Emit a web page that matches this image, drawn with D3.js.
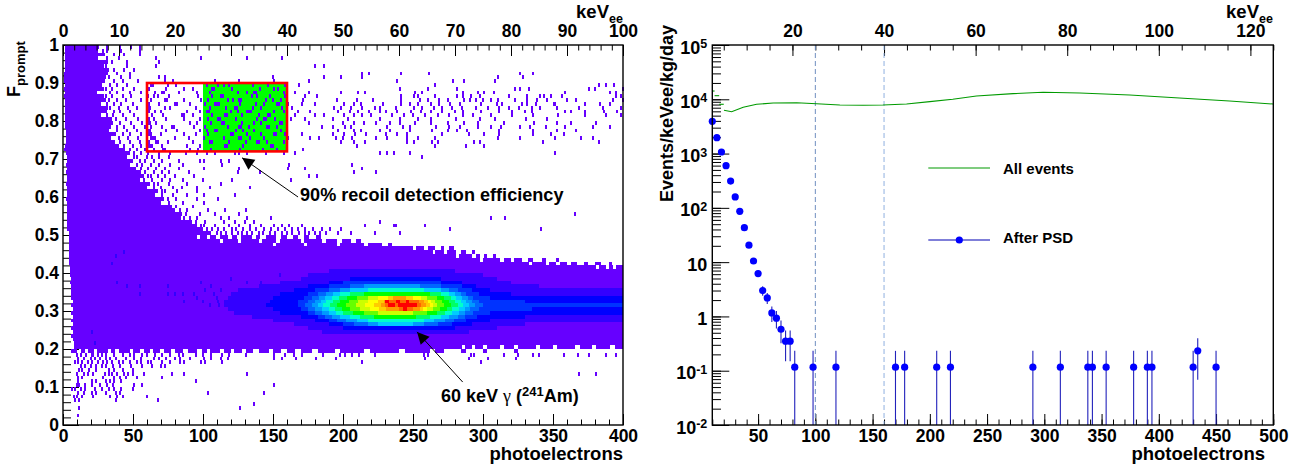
<!DOCTYPE html>
<html>
<head>
<meta charset="utf-8">
<script src="https://cdn.jsdelivr.net/npm/d3@7"></script>
<style>
  html, body { margin: 0; padding: 0; background: #fff; }
  svg { display: block; }
  text { font-family: "Liberation Sans", Arial, sans-serif; font-weight: bold; fill: #000; }
</style>
</head>
<body>
<svg id="chart" width="1310" height="468"></svg>
<script>
// ---- left panel: Fprompt vs photoelectrons ----
const leftTicksX = [0, 50, 100, 150, 200, 250, 300, 350, 400];
const leftTicksY = [0, 0.1, 0.2, 0.3, 0.4, 0.5, 0.6, 0.7, 0.8, 0.9, 1];
const leftTicksKev = [0, 10, 20, 30, 40, 50, 60, 70, 80, 90, 100];
const recoilBox = { x0: 60, x1: 160, y0: 0.72, y1: 0.9 };
const greenBox = { x0: 100, x1: 160, y0: 0.72, y1: 0.9 };
const violet = "#6600ff";

// solid runs of the lowest colour: [F bin, from PE, to PE]
const violetRuns = [
  [.99,1.5,26],[.98,1.5,25],[.97,1.5,24],[.96,1.5,25],[.95,1.5,23],[.94,1.5,24],[.93,1.5,25],[.92,1,25],[.91,1,27],[.90,1,25],
  [.89,1.5,24],[.88,1,26],[.87,1.5,24],[.86,1,24],[.85,1.5,26],[.84,1.5,27],[.83,1.5,26],[.82,1.5,25],[.81,1.5,27],[.80,1.5,26],
  [.79,1.5,25],[.78,1.5,27],[.77,2,26],[.76,2,28],[.75,2,26],[.74,2,27],[.73,1.5,29],[.72,1,30],[.71,2,33],[.70,3,34],
  [.69,3,36],[.68,2,37],[.67,3,39],[.66,2,41],[.65,3,43],[.64,3,44],[.63,2,46],[.62,3,49],[.61,3,51],[.60,3,53],
  [.59,2,55],[.58,3,58],[.57,3,61],[.56,3,64],[.55,3,67],[.54,3,70],[.53,3,74],[.52,3,78],[.51,3,83],[.50,4,90],
  [.49,4,96],[.49,98,103],[.49,105,109],[.49,112,118],[.49,121,124],[.49,127,135],[.49,138,141],[.49,145,152],[.49,156,160],[.49,164,168],[.49,172,176],[.49,181,184],
  [.48,4,112],[.48,114,125],[.48,127,140],[.48,142,152],[.48,155,170],[.48,172,185],[.48,188,196],[.48,199,206],[.48,209,213],
  [.47,4,150],[.47,152,172],[.47,174,196],[.47,198,215],[.47,218,228],[.47,232,235],
  [.46,4,250],[.46,252,258],[.46,261,266],[.46,270,272],[.46,276,279],
  [.45,4,264],[.45,266,272],[.45,274,281],[.45,284,288],[.45,292,294],
  [.44,4,281],[.44,283,292],[.44,295,298],[.44,301,303],[.44,307,309],
  [.43,4,298],[.43,300,312],[.43,315,320],[.43,322,328],[.43,332,336],[.43,342,345],[.43,352,354],
  [.42,4,333],[.42,335,345],[.42,347,352],[.42,355,360],[.42,363,367],[.42,372,375],[.42,380,384],[.42,390,392],
  [.41,5,381],[.41,383,388],[.41,390,393],[.41,395,400],
  [.40,5,400],[.39,5,400],[.38,6,400],[.37,5,400],[.36,6,400],[.35,6,400],[.34,6,400],[.33,6,400],[.32,7,400],[.31,6,400],
  [.30,7,400],[.29,6,400],[.28,7,400],[.27,6,400],[.26,7,400],[.25,6,400],[.24,7,400],[.23,6,400],[.22,7,400],[.21,8,400],
  [.20,8,285],[.20,287,292],[.20,294,300],[.20,303,312],[.20,315,322],[.20,325,338],[.20,341,350],[.20,353,366],[.20,369,378],[.20,381,391],[.20,394,400],
  [.19,6,10],[.19,13,16],[.19,18,22],[.19,24,32],[.19,34,37],[.19,40,48],[.19,50,55],[.19,58,62],[.19,64,69],[.19,72,77],[.19,80,86],[.19,89,96],[.19,99,103],
  [.19,105,112],[.19,115,120],[.19,122,128],[.19,131,136],[.19,140,147],[.19,150,156],[.19,160,166],[.19,170,178],[.19,182,194],[.19,198,215],[.19,219,240],[.19,244,262],[.19,266,272],[.19,284,288],[.19,300,303],[.19,322,325]
];

// chunky right edge of the low-energy plume: [F bin, from PE, to PE]
const plumeEdgeRuns = [
  [.97,24,30],[.95,23,32],[.94,24,29],[.93,25,33],[.92,25,32],[.91,27,31],[.90,25,30],[.89,24,28],[.88,26,29],[.86,24,29],[.85,26,31],
  [.83,26,32],[.82,25,30],[.80,26,35],[.79,25,36],[.78,27,34],[.77,26,33],[.76,28,38],[.75,26,34],[.74,27,37],[.73,29,40],[.72,30,44],
  [.71,33,48],[.70,34,46],[.69,36,50],[.68,37,48],[.67,39,52],[.66,41,56],[.65,43,58],[.64,44,55],[.63,46,62],[.62,49,60],[.61,51,68],
  [.60,53,66],[.59,55,72],[.58,58,70],[.57,61,78],[.56,64,80],[.55,67,85],[.54,70,84],[.53,74,92],[.52,78,96],[.51,83,100],[.50,90,106]
];

// isolated filled bins of the lowest colour: [F bin, [PE values]]
const violetScatter = [
  [.99,[31,40,48,54]],[.98,[28,31,41,54]],[.97,[36,43,54]],[.96,[31,39,66,98,131,156]],[.95,[34,45,68]],
  [.94,[30,45,66,179,186]],[.93,[36,43,50]],[.92,[38,47,213,218,241,261,326,335]],
  [.91,[32,41,47,68,72,149,186,198,213,310,328]],[.90,[36,42,53,72,78,108,125,150,175,238,278,286,308]],
  [.89,[33,38,45,62,63.4,74,80,102,110,114,118,135,146,158,168,265,382,387,393]],
  [.88,[30,34,42,50,61,73,86,92,106,107.4,120,140,150,153,240,260,281,322,326,332,375,379,399]],
  [.87,[33,38,47,55,65,70,71.4,82,95,104,124,131,136,137.4,157,165,175,198,210,215,251,256,285,296,300,307,358,390,394]],
  [.86,[30,34,42,48,60,64,67,75,96,106,112,113.4,134,138,147,158,172,181,241,250,253,265,281,285,291,297,318,331,340,343,348,356,394,398]],
  [.85,[32,38,44,55,62,72,73.4,86,98,103,117,121,125,126.4,144,149,155,171,195,209,221,241,254,260,268,274,286,290,294,299,305,310,322,331,338,345,359,366,392,399]],
  [.84,[31,36,41,49,61,68,79,80.4,90,101,108,109.4,110.8,126,137,143,152,153.4,160,170,179,200,207,212,228,241,247,253,262,268,276,283,298,309,313,327,331,337,350,351,372,383,390]],
  [.83,[33,39,46,52,60,61.4,72,76,94,104,116,122,123.4,135,141,156,163,193,198,205,213,222,226,237,250,256,264,270,277,284,294,303,311,318,325,334,340,352,368,385,398]],
  [.82,[30,36,40,47,61,65,69,88,97,102,103.4,119,124,131,132.4,133.8,150,157,167,176,196,204,210,218,226,230,238,248,255,262,270,279,285,298,311,320,329,334,358,362,372,386,395]],
  [.81,[31,35,42,50,63,71,84,85.4,92,106,115,116.4,127,139,146,147.4,159,165,179,186,200,207,213,219,234,243,249,258,267,275,285,292,305,320,335,353,372,387,398]],
  [.80,[37,44,53,61,64,73,86,97,103,110,111.4,123,138,143,144.4,151,162,172,192,203,226,240,253,262,280,297,308,330,345]],
  [.79,[40,48,56,60,61.4,66,90,95,105,113,114.4,127,136,141,154,155.4,159,175,199,207,214,223,233,240,251,262,274,286,296,314,336,352,362,380]],
  [.78,[38,43,50,58,62,70,77,78.4,93,101,117,125,126.4,132,145,146.4,152,184,192,201,205,231,242,247,266,275,283,296,305,312,326,333,344,358,378,390]],
  [.77,[38,45,52,60,61.4,73,81,97,102,108,109.4,123,128,136,155,196,207,212,226,233,247,263,274,281,288,311,335,352,366]],
  [.76,[42,47,55,61,62.4,69,86,94,103,119,120.4,131,141,150,151.4,158,170,192,200,208,216,230,238,245,270,289,300,311,335,348,357]],
  [.75,[39,46,53,62,63.4,64.8,79,89,100,114,125,126.4,133,143,160,176,182,194,199,206,223,231,245,253,265,310,326,351,369,378]],
  [.74,[40,47,54,61,66,67.4,74,92,104,105.4,118,130,138,139.4,145,157,198,207,215,245,250,263,267,293,297,342,382]],
  [.73,[43,49,55,60,61.4,62.8,70,88,97,115,116.4,128,148,149.4,209,265,287,300]],
  [.72,[47,52,58,64,71,72.4,90,96,105,126,142,152,171]],
  [.71,[50,55,60,68,76,87,95,102,108,122,125,131,144,157,165,226,231,236,247,351]],
  [.70,[50,52,59,63,68,75,256]],[.69,[54,58,64,70,82,97,100,112,118]],[.68,[52,56,62,68,76,85,113,161,206]],
  [.67,[55,60,66,72,82,100,125,160,172,213]],[.66,[58,64,70,75,89,124,140,207,223]],[.65,[60,62,67,72,79,93,175,181]],
  [.64,[57,63,70,76,85,99,120,162]],[.63,[64,67,75,88,112]],[.62,[64,69,78,84,95,104,133]],[.61,[70,72,81,95]],
  [.60,[70,78,88,100,122]],[.59,[74,80,95,110]],[.58,[75,85,100]],[.57,[80,92]],[.56,[83,88,103,115,130]],
  [.55,[87,97,108,125,365]],[.54,[86,90,95,112,118,131,148,305,315]],[.53,[94,101,114,122,129,136,226]],
  [.52,[98,100,108,118,125,133,141,150,156,161,170,215,236,237,258]],
  [.51,[102,106,110,114,120,123,128,133,137,143,148,153,158,163,167,172,178,184,190,198,276,341]],
  [.50,[109,112,116,120,124,127,131,134,139,142,147,151,156,159,163,168,172,175,179,183,187,196,205,222,240]],
  [.18,[9,12,16,20,21,24,27,30,36,42,47,50,56,59,65,70,76,82,85,94,99,105,113,118,130,150,158,164,170,185,197,201,206,211,222,257,260,291,293,314,324,335,339,357,367,375,387,394]],
  [.17,[10,14,19,22,26,30,33,37,44,50,55,64,68,73,79,83,90,100,105,112,117,150,156,166,180,194,258,289,303,323]],
  [.16,[8,10,13,17,20,24,28,31,34,39,42,47,52,55,60,62,70,76,83,86,98,101,113,213,298]],
  [.15,[12,15,19,23,27,30,35,40,48,56,63,69,72]],[.14,[11,13,18,23,32,36,42,49]],[.13,[9,14,17,21,29,32,34,38,43,46,49,57,77,86,131,368,380]],
  [.12,[10,13,28,36,40,44,52,70]],[.11,[10,20,23,30,33,36,41,94]],[.10,[9,11,15,20,26,31,35,50,56,150]],
  [.09,[6,8,12,15,22,27,32,36,41,49]],[.08,[10,14,20,23,30,37,40,103,143]],[.07,[7,9,13,21,33,38,42,59]],[.06,[8,11,37,67]],
  [.05,[136]],[.04,[11,126]],[.02,[10]]
];

// speckle of the next colour up, left of the gamma band: [F bin, [PE values]]
const blueSpeckle = [
  [.44,[37]],[.45,[43]],[.42,[34]],[.39,[154]],[.38,[119]],[.37,[38,98,131,141]],[.36,[45,54,74,105]],[.35,[101,112]],
  [.34,[54,74,79,85,93,107]],[.33,[95,109]],[.32,[86,99,110]],[.31,[104,111]],[.24,[20]],[.21,[22]]
];

// nested colour levels of the gamma peak: [F bin, from PE, to PE]
const level01 = [[.40,190,280],[.39,175,300],[.38,170,310],[.37,155,320],[.36,140,340],[.35,125,400],[.34,120,400],[.33,118,400],[.32,115,400],[.31,115,400],[.30,118,400],[.29,122,400],[.28,135,400],[.27,150,400],[.26,165,330],[.25,175,310],[.24,185,290]];
const level02 = [[.38,205,270],[.37,190,285],[.36,175,295],[.35,165,305],[.34,155,320],[.33,150,400],[.32,148,400],[.31,145,400],[.30,150,400],[.29,155,400],[.28,170,330],[.27,180,305],[.26,190,292],[.25,200,280]];
const level03 = [[.37,200,270],[.36,190,285],[.35,180,292],[.34,175,297],[.33,172,305],[.32,168,330],[.31,168,400],[.30,170,335],[.29,175,305],[.28,182,296],[.27,190,288],[.26,200,278]];
const level04 = [[.36,205,270],[.35,190,282],[.34,182,288],[.33,178,293],[.32,175,297],[.31,173,300],[.30,175,297],[.29,180,293],[.28,187,287],[.27,196,279],[.26,208,268]];
const level05 = [[.36,215,255],[.35,198,276],[.34,188,284],[.33,183,289],[.32,180,292],[.31,178,294],[.30,180,291],[.29,185,287],[.28,192,282],[.27,202,273],[.26,218,258]];
const level06 = [[.35,205,270],[.34,193,280],[.33,187,285],[.32,184,288],[.31,182,290],[.30,185,287],[.29,190,283],[.28,198,276],[.27,210,265],[.26,225,250]];
const level07 = [[.35,218,258],[.34,198,276],[.33,192,281],[.32,188,284],[.31,186,286],[.30,190,283],[.29,195,278],[.28,205,270],[.27,218,258]];
const level08 = [[.34,205,270],[.33,197,277],[.32,193,280],[.31,191,282],[.30,194,278],[.29,200,273],[.28,212,262]];
const level09 = [[.34,215,262],[.33,203,272],[.32,198,276],[.31,196,277],[.30,199,274],[.29,207,267],[.28,222,252]];
const level10 = [[.33,210,267],[.32,204,271],[.31,202,272],[.30,205,269],[.29,215,260]];
const level11 = [[.33,218,260],[.32,211,266],[.31,209,267],[.30,212,264],[.29,225,250]];
const level12 = [[.33,225,256],[.32,218,263],[.31,216,264],[.30,219,260]];
const level13 = [[.33,232,250],[.32,225,261],[.31,222,262],[.30,226,257]];
const level14 = [[.33,236,245],[.32,229,258],[.31,227,259],[.30,231,255]];
const level15 = [[.32,232,254],[.31,230,256],[.30,240,250]];
const level16 = [[.32,230,233],[.32,238,241],[.32,245,247],[.31,232,237],[.31,239,253],[.30,243,246]];
const peakLevels = [level01, level02, level03, level04, level05, level06, level07, level08, level09, level10, level11, level12, level13, level14, level15, level16];
const peakColors = ["#3300ff", "#0000ff", "#0033ff", "#0066ff", "#0099ff", "#00ccff", "#00ffcc", "#00ff66", "#00ff00", "#66ff00", "#ccff00", "#ffff00", "#ffcc00", "#ff9900", "#ff6600", "#ff0000"];

// ---- right panel: rate vs photoelectrons ----
const rightTicksX = [50, 100, 150, 200, 250, 300, 350, 400, 450, 500];
const rightTicksKev = [20, 40, 60, 80, 100, 120];
const rightExponents = [-2, -1, 0, 1, 2, 3, 4, 5];
const cutLines = [100, 160];

const allEventsPE = [20.2, 26.9, 37, 48.7, 63.2, 83.7, 101, 121.4, 141.8, 159, 179.7, 200, 220, 240.7, 272.7, 298.9, 331, 374.6, 418, 461.8, 500];
const allEventsRate = [6270, 5910, 7110, 8090, 8550, 8660, 8300, 7850, 7760, 7850, 8180, 9040, 10000, 11500, 12700, 13450, 13050, 12000, 10570, 9310, 8180];
// first bins, drawn as separate steps: [from PE, to PE, rate]
const allEventsSteps = [[10, 12, 14200], [12, 16, 11650], [16, 20, 8090]];

const psdPE = [10, 14, 18, 22, 26, 30, 34, 38, 42, 46, 50, 54, 58, 62, 66, 70, 74, 78, 82, 98, 118, 170, 178, 206, 218, 290, 314, 338, 342, 354, 378, 390, 394, 430, 434, 450];
const psdRate = [3930, 1960, 1070, 598, 312, 159, 86.5, 43.2, 20.5, 10.5, 6.15, 2.99, 2.19, 1.16, 0.93, 0.58, 0.35, 0.35, 0.116, 0.116, 0.116, 0.116, 0.116, 0.116, 0.116, 0.116, 0.116, 0.116, 0.116, 0.116, 0.116, 0.116, 0.116, 0.116, 0.232, 0.116];
const psdError = [21, 15, 11, 8.3, 6, 4.3, 3.2, 2.2, 1.55, 1.1, 0.85, 0.59, 0.5, 0.37, 0.33, 0.26, 0.2, 0.2, 0.116, 0.116, 0.116, 0.116, 0.116, 0.116, 0.116, 0.116, 0.116, 0.116, 0.116, 0.116, 0.116, 0.116, 0.116, 0.116, 0.164, 0.116];

// ---- drawing ----
const svg = d3.select("#chart");
const tickFont = 17.5;

const xLeft = d3.scaleLinear().domain([0, 400]).range([63, 623]);
const yLeft = d3.scaleLinear().domain([0, 1]).range([425, 45]);
const kevLeft = d3.scaleLinear().domain([0, 100]).range([63, 623]);

const xRight = d3.scaleLinear().domain([10, 500]).range([712.3, 1273.3]);
const yRight = d3.scaleLog().domain([0.01, 1e5]).range([425, 45]);
const kevRight = d3.scaleLinear().domain([2.5, 125]).range([712.3, 1273.3]);

// one layer of ticks: minor ticks first, then the labelled major ones
function drawAxis(parent, axisOf, scale, major, minor, majorLen, minorLen, pad, fmt) {
  const g = parent.append("g");
  const a = g.append("g").call(axisOf(scale).tickValues(minor).tickSize(-minorLen).tickFormat(""));
  const b = g.append("g").call(axisOf(scale).tickValues(major).tickSize(-majorLen).tickPadding(pad).tickFormat(fmt || (d => d)));
  g.selectAll(".domain").remove();
  g.selectAll("line").attr("stroke", "#000").attr("stroke-width", 1);
  g.selectAll("text").attr("font-size", tickFont).attr("font-family", null);
  a.selectAll("text").remove();
  return b;
}

function bottomAxis(s) { return d3.axisBottom(s); }
function topAxis(s) { return d3.axisTop(s); }
function leftAxis(s) { return d3.axisLeft(s); }

function drawTitleSub(x, y, main, sub) {
  svg.append("text").attr("x", x).attr("y", y).attr("font-size", tickFont + 1).attr("text-anchor", "end").attr("dx", -14).text(main);
  svg.append("text").attr("x", x).attr("y", y + 5).attr("font-size", 12.5).attr("text-anchor", "end").text(sub);
}

// -- left panel --
const left = svg.append("g");

const leftBottom = left.append("g").attr("transform", "translate(0,425)");
drawAxis(leftBottom, bottomAxis, xLeft, leftTicksX, d3.range(0, 401, 10), 11, 5.5, 4.6);
const leftSide = left.append("g").attr("transform", "translate(63,0)");
drawAxis(leftSide, leftAxis, yLeft, leftTicksY, d3.range(0, 1.001, 0.02), 16, 8, 4);

left.append("rect")
  .attr("x", xLeft(greenBox.x0)).attr("width", xLeft(greenBox.x1) - xLeft(greenBox.x0))
  .attr("y", yLeft(greenBox.y1)).attr("height", yLeft(greenBox.y0) - yLeft(greenBox.y1))
  .attr("fill", "#00ff00");

function drawRuns(runs, color) {
  left.append("g").attr("shape-rendering", "crispEdges").attr("fill", color)
    .selectAll("rect").data(runs).join("rect")
    .attr("x", d => xLeft(d[1]))
    .attr("width", d => xLeft(d[2]) - xLeft(d[1]))
    .attr("y", d => yLeft(d[0] + 0.01))
    .attr("height", d => yLeft(d[0]) - yLeft(d[0] + 0.01));
}

function scatterToRuns(rows) {
  return rows.flatMap(r => r[1].map(pe => [r[0], pe, pe + 1.45]));
}

drawRuns(violetRuns, violet);
drawRuns(plumeEdgeRuns, violet);
drawRuns(scatterToRuns(violetScatter), violet);
drawRuns(scatterToRuns(blueSpeckle), "#3300ff");
peakLevels.forEach((lvl, i) => drawRuns(lvl, peakColors[i]));

// red selection box
left.append("rect")
  .attr("x", xLeft(recoilBox.x0)).attr("width", xLeft(recoilBox.x1) - xLeft(recoilBox.x0))
  .attr("y", yLeft(recoilBox.y1)).attr("height", yLeft(recoilBox.y0) - yLeft(recoilBox.y1))
  .attr("fill", "none").attr("stroke", "#ff0000").attr("stroke-width", 2.6);

const leftTop = left.append("g").attr("transform", "translate(0,45)");
drawAxis(leftTop, topAxis, kevLeft, leftTicksKev, d3.range(0, 101, 2), 11, 5.5, 8);

left.append("rect").attr("x", 63).attr("y", 45).attr("width", 560).attr("height", 380)
  .attr("fill", "none").attr("stroke", "#000").attr("stroke-width", 1.4);

// arrows: [PE, F] of tail and tip
function drawArrow(tail, tip) {
  const x0 = xLeft(tail[0]), y0 = yLeft(tail[1]), x1 = xLeft(tip[0]), y1 = yLeft(tip[1]);
  const len = Math.hypot(x1 - x0, y1 - y0), ux = (x1 - x0) / len, uy = (y1 - y0) / len;
  left.append("line").attr("x1", x0).attr("y1", y0).attr("x2", x1).attr("y2", y1)
    .attr("stroke", "#000").attr("stroke-width", 1);
  const bx = x1 - ux * 12, by = y1 - uy * 12;
  left.append("polygon").attr("fill", "#000")
    .attr("points", [[x1, y1], [bx - uy * 6, by + ux * 6], [bx + uy * 6, by - ux * 6]].join(" "));
}
drawArrow([167.9, 0.6], [127.9, 0.703]);
drawArrow([285.5, 0.113], [252.9, 0.245]);

left.append("text").attr("x", 300).attr("y", 201).attr("font-size", 18.1).text("90% recoil detection efficiency");
const gammaLabel = left.append("text").attr("x", 441).attr("y", 402).attr("font-size", 18);
gammaLabel.append("tspan").text("60 keV ");
gammaLabel.append("tspan").attr("font-family", "'Liberation Serif', serif").attr("font-weight", "normal").text("\u03b3");
gammaLabel.append("tspan").text(" (");
gammaLabel.append("tspan").attr("font-size", 13).attr("dy", -6).text("241");
gammaLabel.append("tspan").attr("dy", 6).text("Am)");

left.append("text").attr("x", 623).attr("y", 460).attr("text-anchor", "end").attr("font-size", 18.5).text("photoelectrons");

const fTitle = svg.append("text").attr("transform", "translate(20,97) rotate(-90)").attr("font-size", 18);
fTitle.append("tspan").text("F");
fTitle.append("tspan").attr("font-size", 13).attr("dy", 4.5).text("prompt");

drawTitleSub(623, 18, "keV", "ee");

// -- right panel --
const right = svg.append("g");

const rightBottom = right.append("g").attr("transform", "translate(0,425)");
drawAxis(rightBottom, bottomAxis, xRight, rightTicksX, d3.range(10, 501, 10), 11, 5.5, 4.6);

const rightSide = right.append("g").attr("transform", "translate(712.3,0)");
const sideMajor = rightExponents.map(e => Math.pow(10, e));
const sideLabels = drawAxis(rightSide, leftAxis, yRight, sideMajor, yRight.ticks(), 17, 8.7, 5, () => "");
sideLabels.selectAll("text")
  .attr("dy", null).attr("y", 8).attr("font-size", 18)
  .each(function(d, i) {
    const e = rightExponents[i], t = d3.select(this);
    if (e === 0 || e === 1) { t.text(e === 0 ? "1" : "10"); return; }
    t.append("tspan").text("10");
    t.append("tspan").attr("font-size", 12.5).attr("dy", -5.5).text(e);
  });

const rightTop = right.append("g").attr("transform", "translate(0,45)");
drawAxis(rightTop, topAxis, kevRight, rightTicksKev, d3.range(5, 125.1, 5), 11, 5.5, 8);

right.selectAll(".cut").data(cutLines).join("line")
  .attr("class", "cut")
  .attr("x1", xRight).attr("x2", xRight).attr("y1", 45).attr("y2", 425)
  .attr("stroke", (d, i) => i ? "#8fb0e0" : "#6f8fc0").attr("stroke-width", 1).attr("stroke-dasharray", "5,3");

const allEventsLine = d3.line().x(d => xRight(d[0])).y(d => yRight(d[1]));
right.append("path")
  .datum(d3.zip(allEventsPE, allEventsRate))
  .attr("d", allEventsLine).attr("fill", "none").attr("stroke", "#009a00").attr("stroke-width", 1.1);
right.selectAll(".step").data(allEventsSteps).join("line")
  .attr("class", "step")
  .attr("x1", d => xRight(d[0])).attr("x2", d => xRight(d[1]))
  .attr("y1", d => yRight(d[2])).attr("y2", d => yRight(d[2]))
  .attr("stroke", "#009a00").attr("stroke-width", 1.1);

const psd = psdPE.map((pe, i) => ({ pe: pe, rate: psdRate[i], err: psdError[i] }));
right.selectAll(".err").data(psd).join("line")
  .attr("class", "err")
  .attr("x1", d => xRight(d.pe)).attr("x2", d => xRight(d.pe))
  .attr("y1", d => yRight(d.rate + d.err))
  .attr("y2", d => d.rate - d.err > 0.01 ? yRight(d.rate - d.err) : yRight(0.01))
  .attr("stroke", "#2222bb").attr("stroke-width", 1.1);
right.selectAll(".pt").data(psd).join("circle")
  .attr("class", "pt")
  .attr("cx", d => xRight(d.pe)).attr("cy", d => yRight(d.rate)).attr("r", 3.6)
  .attr("fill", "#0000ff");

right.append("rect").attr("x", 712.3).attr("y", 45).attr("width", 561).attr("height", 380)
  .attr("fill", "none").attr("stroke", "#000").attr("stroke-width", 1.4);

// legend
right.append("line").attr("x1", 928.3).attr("x2", 990).attr("y1", 168).attr("y2", 168).attr("stroke", "#009a00").attr("stroke-width", 1.1);
right.append("text").attr("x", 1003).attr("y", 174).attr("font-size", 15).text("All events");
right.append("line").attr("x1", 928.3).attr("x2", 990).attr("y1", 240).attr("y2", 240).attr("stroke", "#5555cc").attr("stroke-width", 1.3);
right.append("circle").attr("cx", 959.3).attr("cy", 240).attr("r", 3.6).attr("fill", "#0000ff");
right.append("text").attr("x", 1003).attr("y", 243).attr("font-size", 15).text("After PSD");

right.append("text").attr("x", 1265).attr("y", 460).attr("text-anchor", "end").attr("font-size", 18.5).text("photoelectrons");
svg.append("text").attr("transform", "translate(673,202) rotate(-90)").attr("font-size", 18).text("Events/keVee/kg/day");
drawTitleSub(1273, 18, "keV", "ee");
</script>
</body>
</html>
